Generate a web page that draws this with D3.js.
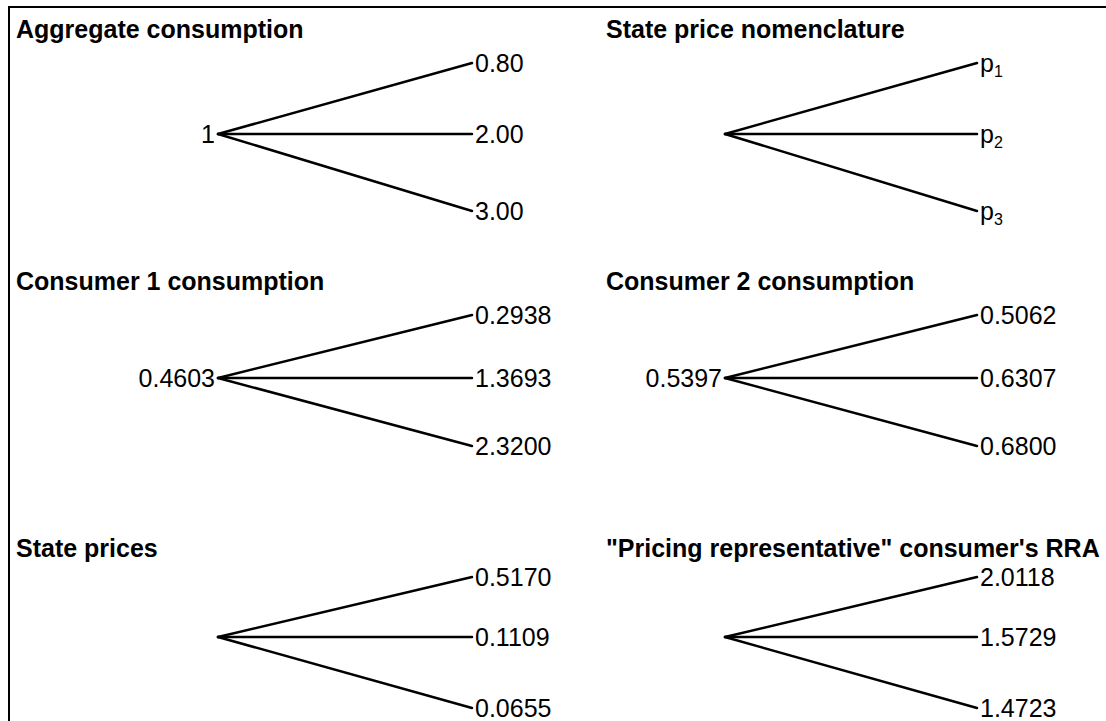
<!DOCTYPE html>
<html lang="en">
<head>
  <meta charset="utf-8" />
  <title>Consumption and state price trees</title>
  <script src="https://d3js.org/d3.v7.min.js"></script>
  <style>
    body { margin: 0; background: #fff; }
    text { font-family: "Liberation Sans", Arial, sans-serif; fill: #000; }
    .title { font-weight: bold; font-size: 25px; }
    .num { font-size: 25px; }
  </style>
</head>
<body>
<script>
  // panel data, row by row (left panel then right panel)
  var titles = [
    "Aggregate consumption", "State price nomenclature",
    "Consumer 1 consumption", "Consumer 2 consumption",
    "State prices", "\"Pricing representative\" consumer's RRA"
  ];
  var rootLabels = ["1", "", "0.4603", "0.5397", "", ""];
  var leafLabels = [
    ["0.80", "2.00", "3.00"],
    ["p_1", "p_2", "p_3"],
    ["0.2938", "1.3693", "2.3200"],
    ["0.5062", "0.6307", "0.6800"],
    ["0.5170", "0.1109", "0.0655"],
    ["2.0118", "1.5729", "1.4723"]
  ];
  var branches = [0, 1, 2];

  var width = 1106, height = 721;

  var svg = d3.select("body").append("svg")
    .attr("width", width)
    .attr("height", height);

  // outer frame (runs off the right and bottom edges)
  svg.append("rect")
    .attr("x", 9).attr("y", 7)
    .attr("width", width + 20).attr("height", height + 20)
    .attr("fill", "none")
    .attr("stroke", "#000")
    .attr("stroke-width", 2);

  // layout for the 2 columns x 3 rows
  var colTitleX = [16, 606];
  var colRootX = [218, 725];
  var colLeafX = [472, 977];
  var rowTitleY = [38, 290, 557];
  var rowRange = [[63, 134, 211], [315, 378, 446], [577, 637, 708]];

  titles.forEach(function (t, i) {
    var col = i % 2, row = Math.floor(i / 2);
    var g = svg.append("g");

    var y = d3.scaleLinear().domain(branches).range(rowRange[row]);
    var rootY = y(1);

    g.append("text")
      .attr("class", "title")
      .attr("x", colTitleX[col])
      .attr("y", rowTitleY[row])
      .text(t);

    g.selectAll("line.branch")
      .data(branches)
      .enter().append("line")
      .attr("class", "branch")
      .attr("x1", colRootX[col]).attr("y1", rootY)
      .attr("x2", colLeafX[col]).attr("y2", function (d) { return y(d); })
      .attr("stroke", "#000")
      .attr("stroke-width", 2.5)
      .attr("stroke-linecap", "round");

    if (rootLabels[i] !== "") {
      g.append("text")
        .attr("class", "num")
        .attr("x", colRootX[col] - 3)
        .attr("y", rootY)
        .attr("dy", "0.36em")
        .attr("text-anchor", "end")
        .text(rootLabels[i]);
    }

    var leaves = g.selectAll("text.leaf")
      .data(leafLabels[i])
      .enter().append("text")
      .attr("class", "num leaf")
      .attr("x", colLeafX[col] + 3)
      .attr("y", function (d, k) { return y(branches[k]); })
      .attr("dy", "0.36em");

    leaves.each(function (d) {
      var el = d3.select(this);
      var parts = d.split("_");
      el.append("tspan").text(parts[0]);
      if (parts.length > 1) {
        el.append("tspan")
          .attr("dy", 5)
          .style("font-size", "16px")
          .text(parts[1]);
      }
    });
  });
</script>
</body>
</html>
